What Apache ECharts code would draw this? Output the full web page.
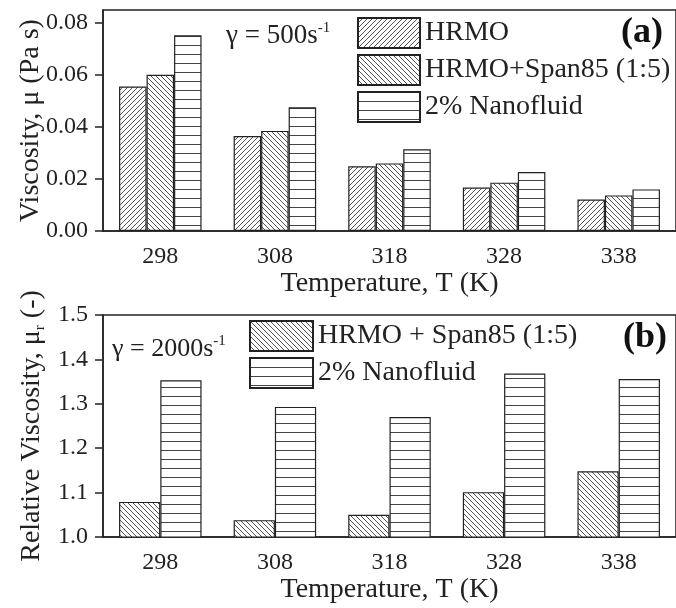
<!DOCTYPE html>
<html>
<head>
<meta charset="utf-8">
<script src="https://cdn.jsdelivr.net/npm/echarts@6/dist/echarts.min.js"></script>
<style>
    html, body { margin: 0; padding: 0; background: #fff; }
    #chart { width: 676px; height: 608px; }
</style>
</head>
<body>
<div id="chart"></div>
<script>
// 数据
const temps = ['298', '308', '318', '328', '338']
const hrmo = [0.0556, 0.0365, 0.0249, 0.0167, 0.0121]
const hrmoSpan = [0.0601, 0.0385, 0.0260, 0.0186, 0.0137]
const nano = [0.0753, 0.0476, 0.0314, 0.0227, 0.0160]
const relSpan = [1.079, 1.038, 1.050, 1.101, 1.148]
const relNano = [1.353, 1.293, 1.270, 1.368, 1.356]
const topTicks = [0, 0.02, 0.04, 0.06, 0.08]
const bottomTicks = [1.0, 1.1, 1.2, 1.3, 1.4, 1.5]

const FONT = 'Liberation Serif'
const INK = '#222'

// 填充纹理
const makeHatch = (type) => {
    const c = document.createElement('canvas')
    const ctx = c.getContext('2d')
    if (type === 'h') {
        c.width = 4
        c.height = 9
        ctx.fillStyle = '#fff'
        ctx.fillRect(0, 0, 4, 9)
        ctx.fillStyle = '#444'
        ctx.fillRect(0, 0, 4, 1)
        return c
    }
    const s = 5
    c.width = s
    c.height = s
    ctx.fillStyle = '#fff'
    ctx.fillRect(0, 0, s, s)
    ctx.strokeStyle = '#555'
    ctx.lineWidth = 1
    ctx.beginPath()
    if (type === '/') {
        ctx.moveTo(-1, s + 1); ctx.lineTo(s + 1, -1)
        ctx.moveTo(-1, 1); ctx.lineTo(1, -1)
        ctx.moveTo(s - 1, s + 1); ctx.lineTo(s + 1, s - 1)
    } else {
        ctx.moveTo(-1, -1); ctx.lineTo(s + 1, s + 1)
        ctx.moveTo(s - 1, -1); ctx.lineTo(s + 1, 1)
        ctx.moveTo(-1, s - 1); ctx.lineTo(1, s + 1)
    }
    ctx.stroke()
    return c
}

const fillOf = (type) => ({ image: makeHatch(type), repeat: 'repeat' })

const barStyle = (type) => ({
    color: fillOf(type),
    borderColor: INK,
    borderWidth: 1.2
})

const xAxisOf = (gridIndex) => ({
    type: 'category',
    gridIndex,
    data: temps,
    name: 'Temperature, T (K)',
    nameLocation: 'middle',
    nameGap: 37,
    nameTextStyle: { fontFamily: FONT, fontSize: 28, color: INK },
    axisLine: { lineStyle: { color: INK, width: 1.5 } },
    axisTick: { alignWithLabel: true, length: 7, lineStyle: { color: INK, width: 1.5 } },
    axisLabel: { fontFamily: FONT, fontSize: 24, color: INK, margin: 14 },
    splitLine: { show: false }
})

const chart = echarts.init(document.getElementById('chart'))

const option = {
    backgroundColor: '#fff',
    animation: false,
    grid: [
        { left: 103, right: -6, top: 10, height: 221, show: true, borderColor: INK, borderWidth: 1.5, backgroundColor: 'transparent' },
        { left: 103, right: -6, top: 315, height: 222, show: true, borderColor: INK, borderWidth: 1.5, backgroundColor: 'transparent' }
    ],
    xAxis: [xAxisOf(0), xAxisOf(1)],
    yAxis: [
        {
            type: 'value',
            gridIndex: 0,
            min: 0,
            max: 0.085,
            name: 'Viscosity, μ (Pa s)',
            nameLocation: 'middle',
            nameGap: 58,
            nameMoveOverlap: false,
            nameTextStyle: { fontFamily: FONT, fontSize: 28, color: INK },
            axisLine: { show: true, lineStyle: { color: INK, width: 1.5 } },
            axisTick: { show: true, length: 8, customValues: topTicks, lineStyle: { color: INK, width: 1.5 } },
            axisLabel: {
                fontFamily: FONT, fontSize: 24, color: INK, margin: 15,
                customValues: topTicks,
                formatter: v => v.toFixed(2)
            },
            splitLine: { show: false }
        },
        {
            type: 'value',
            gridIndex: 1,
            min: 1.0,
            max: 1.5,
            interval: 0.1,
            name: '{a|Relative Viscosity, μ}{s|r}{a| (-)}',
            nameLocation: 'middle',
            nameGap: 55,
            nameMoveOverlap: false,
            nameTextStyle: {
                fontFamily: FONT, fontSize: 28, color: INK,
                rich: {
                    a: { fontFamily: FONT, fontSize: 28, color: INK, lineHeight: 32 },
                    s: { fontFamily: FONT, fontSize: 15, color: INK, lineHeight: 15, verticalAlign: 'bottom' }
                }
            },
            axisLine: { show: true, lineStyle: { color: INK, width: 1.5 } },
            axisTick: { show: true, length: 8, lineStyle: { color: INK, width: 1.5 } },
            axisLabel: {
                fontFamily: FONT, fontSize: 24, color: INK, margin: 15,
                formatter: v => v.toFixed(1)
            },
            splitLine: { show: false }
        }
    ],
    legend: [
        {
            orient: 'vertical',
            left: 352,
            top: 12,
            padding: 5,
            itemWidth: 62,
            itemHeight: 30,
            itemGap: 5,
            icon: 'rect',
            textStyle: { fontFamily: FONT, fontSize: 28, color: INK, lineHeight: 30 },
            data: ['HRMO', 'HRMO+Span85 (1:5)', '2% Nanofluid']
        },
        {
            orient: 'vertical',
            left: 244,
            top: 315,
            padding: 5,
            itemWidth: 63,
            itemHeight: 30,
            itemGap: 5,
            icon: 'rect',
            textStyle: { fontFamily: FONT, fontSize: 28, color: INK, lineHeight: 30 },
            data: ['HRMO + Span85 (1:5)', '2% Nanofluid']
        }
    ],
    series: [
        // (a) 粘度
        { name: 'HRMO', type: 'bar', xAxisIndex: 0, yAxisIndex: 0, data: hrmo, barGap: '0%', barCategoryGap: '28%', itemStyle: barStyle('/') },
        { name: 'HRMO+Span85 (1:5)', type: 'bar', xAxisIndex: 0, yAxisIndex: 0, data: hrmoSpan, barGap: '0%', barCategoryGap: '28%', itemStyle: barStyle('\\') },
        { name: '2% Nanofluid', type: 'bar', xAxisIndex: 0, yAxisIndex: 0, data: nano, barGap: '0%', barCategoryGap: '28%', itemStyle: barStyle('h') },
        // (b) 相对粘度
        { name: 'HRMO + Span85 (1:5)', type: 'bar', xAxisIndex: 1, yAxisIndex: 1, data: relSpan, barGap: '0%', barCategoryGap: '28%', itemStyle: barStyle('\\') },
        { name: '2% Nanofluid', type: 'bar', xAxisIndex: 1, yAxisIndex: 1, data: relNano, barGap: '0%', barCategoryGap: '28%', itemStyle: barStyle('h') }
    ],
    graphic: [
        {
            type: 'text', left: 226, top: 21,
            style: {
                text: '{a|γ = 500s}{b|-1}',
                rich: {
                    a: { fontFamily: FONT, fontSize: 27, fill: INK, lineHeight: 30 },
                    b: { fontFamily: FONT, fontSize: 15, fill: INK, lineHeight: 15, verticalAlign: 'top' }
                }
            }
        },
        {
            type: 'text', left: 112, top: 334,
            style: {
                text: '{a|γ = 2000s}{b|-1}',
                rich: {
                    a: { fontFamily: FONT, fontSize: 26, fill: INK, lineHeight: 30 },
                    b: { fontFamily: FONT, fontSize: 15, fill: INK, lineHeight: 15, verticalAlign: 'top' }
                }
            }
        },
        {
            type: 'text', left: 621, top: 15,
            style: { text: '(a)', fontFamily: FONT, fontSize: 36, fontWeight: 'bold', fill: '#111' }
        },
        {
            type: 'text', left: 623, top: 320,
            style: { text: '(b)', fontFamily: FONT, fontSize: 36, fontWeight: 'bold', fill: '#111' }
        }
    ]
}

chart.setOption(option)
</script>
</body>
</html>
